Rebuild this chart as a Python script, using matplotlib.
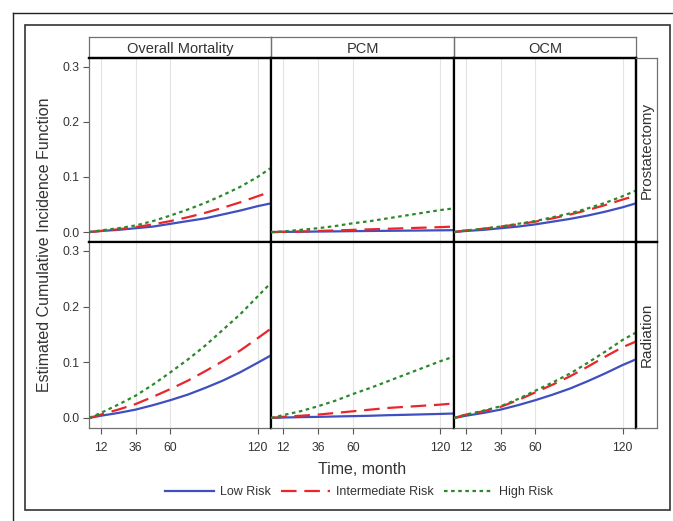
import matplotlib
matplotlib.use("Agg")
import matplotlib.pyplot as plt
from matplotlib.lines import Line2D
import numpy as np

plt.rcParams['font.family'] = ['Liberation Sans', 'DejaVu Sans']

# ---------------- data ----------------
months = [4, 12, 24, 36, 48, 60, 72, 84, 96, 108, 120, 129]
col_titles = ["Overall Mortality", "PCM", "OCM"]
row_titles = ["Prostatectomy", "Radiation"]
series_names = ["Low Risk", "Intermediate Risk", "High Risk"]
x_ticks = [12, 36, 60, 120]
y_ticks = [0.0, 0.1, 0.2, 0.3]
y_tick_labels = ["0.0", "0.1", "0.2", "0.3"]

# Prostatectomy row
prost_overall_low = [0, 0.002, 0.004, 0.007, 0.010, 0.015, 0.020, 0.025, 0.032, 0.039, 0.047, 0.052]
prost_overall_int = [0, 0.002, 0.005, 0.009, 0.014, 0.020, 0.027, 0.035, 0.044, 0.054, 0.065, 0.073]
prost_overall_high = [0, 0.003, 0.007, 0.012, 0.020, 0.030, 0.041, 0.053, 0.067, 0.082, 0.100, 0.116]

prost_pcm_low = [0, 0.0003, 0.0006, 0.001, 0.0013, 0.0017, 0.002, 0.0023, 0.0026, 0.0029, 0.0032, 0.0035]
prost_pcm_int = [0, 0.0005, 0.001, 0.002, 0.003, 0.004, 0.005, 0.006, 0.007, 0.008, 0.009, 0.010]
prost_pcm_high = [0, 0.001, 0.004, 0.007, 0.011, 0.016, 0.020, 0.025, 0.030, 0.035, 0.040, 0.043]

prost_ocm_low = [0, 0.002, 0.004, 0.007, 0.010, 0.014, 0.019, 0.024, 0.030, 0.037, 0.045, 0.052]
prost_ocm_int = [0, 0.003, 0.006, 0.010, 0.014, 0.019, 0.025, 0.032, 0.040, 0.049, 0.059, 0.066]
prost_ocm_high = [0, 0.003, 0.006, 0.010, 0.015, 0.020, 0.027, 0.034, 0.043, 0.053, 0.065, 0.075]

# Radiation row
rad_overall_low = [0, 0.004, 0.009, 0.015, 0.023, 0.032, 0.042, 0.054, 0.067, 0.082, 0.099, 0.112]
rad_overall_int = [0, 0.006, 0.015, 0.025, 0.038, 0.052, 0.067, 0.084, 0.102, 0.121, 0.143, 0.160]
rad_overall_high = [0, 0.009, 0.024, 0.040, 0.060, 0.082, 0.105, 0.130, 0.158, 0.186, 0.218, 0.242]

rad_pcm_low = [0, 0.0008, 0.0015, 0.002, 0.0027, 0.0033, 0.004, 0.005, 0.0057, 0.0065, 0.0073, 0.008]
rad_pcm_int = [0, 0.002, 0.004, 0.006, 0.009, 0.012, 0.015, 0.018, 0.020, 0.022, 0.024, 0.026]
rad_pcm_high = [0, 0.005, 0.012, 0.021, 0.031, 0.043, 0.054, 0.066, 0.078, 0.090, 0.102, 0.110]

rad_ocm_low = [0, 0.004, 0.009, 0.015, 0.023, 0.032, 0.042, 0.053, 0.066, 0.080, 0.095, 0.105]
rad_ocm_int = [0, 0.006, 0.012, 0.020, 0.032, 0.046, 0.060, 0.075, 0.092, 0.110, 0.127, 0.137]
rad_ocm_high = [0, 0.006, 0.013, 0.021, 0.034, 0.049, 0.064, 0.080, 0.099, 0.119, 0.140, 0.153]

panels = [
    [(prost_overall_low, prost_overall_int, prost_overall_high),
     (prost_pcm_low, prost_pcm_int, prost_pcm_high),
     (prost_ocm_low, prost_ocm_int, prost_ocm_high)],
    [(rad_overall_low, rad_overall_int, rad_overall_high),
     (rad_pcm_low, rad_pcm_int, rad_pcm_high),
     (rad_ocm_low, rad_ocm_int, rad_ocm_high)],
]

# ---------------- styling ----------------
W, H = 673, 521
colors = ["#3f4fbf", "#e8262b", "#2a8a2a"]
dashes = [None, (7, 3.5), (1.6, 1.6)]
TXT = "#333333"
THICK = "#000000"
THIN = "#707070"

fig = plt.figure(figsize=(W / 100, H / 100), dpi=100)


def frac(x0, y0, x1, y1):
    return [x0 / W, 1 - y1 / H, (x1 - x0) / W, (y1 - y0) / H]


col_x = [(89, 271), (271, 454), (454, 636)]
row_y = [(58, 242), (242, 428)]

# outer decorations
fig.add_artist(Line2D([12.7 / W, 1.0], [1 - 13.3 / H, 1 - 13.3 / H], color="#222222", lw=1.0))
fig.add_artist(Line2D([12.7 / W, 12.7 / W], [0, 1 - 13.3 / H], color="#222222", lw=1.0))
fig.add_artist(plt.Rectangle((25 / W, 1 - 510 / H), (670 - 25) / W, (510 - 25) / H,
                             fill=False, ec="#333333", lw=1.2, transform=fig.transFigure))

for r, (y0, y1) in enumerate(row_y):
    for c, (x0, x1) in enumerate(col_x):
        ax = fig.add_axes(frac(x0, y0, x1, y1))
        ax.set_xlim(3.9, 129.3)
        ax.set_ylim(-0.018, 0.316)
        for xv in x_ticks:
            ax.axvline(xv, color="#e4e4e4", lw=0.8, zorder=0)
        for k, vals in enumerate(panels[r][c]):
            ln, = ax.plot(months, vals, color=colors[k], lw=1.6, zorder=3 + k)
            if dashes[k] is not None:
                ln.set_dashes(dashes[k])
        for side in ["top", "bottom", "left", "right"]:
            ax.spines[side].set_color(THICK)
            ax.spines[side].set_linewidth(1.6)
        if c == 0:
            ax.spines["left"].set_color(THIN)
            ax.spines["left"].set_linewidth(0.9)
        if r == 1:
            ax.spines["bottom"].set_color(THIN)
            ax.spines["bottom"].set_linewidth(0.9)
        ax.set_xticks(x_ticks)
        ax.set_yticks(y_ticks)
        ax.tick_params(axis="both", direction="out", length=4, width=0.8,
                       color="#555555", labelsize=8.8, labelcolor=TXT, pad=3)
        if c == 0:
            ax.set_yticklabels(y_tick_labels)
        else:
            ax.tick_params(axis="y", left=False, labelleft=False)
        if r == 1:
            ax.set_xticklabels([str(v) for v in x_ticks])
            ax.tick_params(axis="x", pad=6)
        else:
            ax.tick_params(axis="x", bottom=False, labelbottom=False)

# column strips
for c, (x0, x1) in enumerate(col_x):
    sax = fig.add_axes(frac(x0, 37.3, x1, 58))
    sax.set_xticks([]); sax.set_yticks([])
    for side in ["top", "left", "right"]:
        sax.spines[side].set_color(THIN); sax.spines[side].set_linewidth(0.9)
    sax.spines["bottom"].set_color(THICK); sax.spines["bottom"].set_linewidth(1.6)
    sax.text(0.5, 0.45, col_titles[c], ha="center", va="center", fontsize=10.5,
             color=TXT, transform=sax.transAxes)
    sax.patch.set_alpha(0)

# row strips
for r, (y0, y1) in enumerate(row_y):
    sax = fig.add_axes(frac(636, y0, 657.3, y1))
    sax.set_xticks([]); sax.set_yticks([])
    for side in ["top", "right", "bottom"]:
        sax.spines[side].set_color(THIN); sax.spines[side].set_linewidth(0.9)
    sax.spines["left"].set_color(THICK); sax.spines["left"].set_linewidth(1.6)
    if r == 0:
        sax.spines["bottom"].set_color(THICK); sax.spines["bottom"].set_linewidth(1.6)
    else:
        sax.spines["top"].set_color(THICK); sax.spines["top"].set_linewidth(1.6)
    sax.text(0.5, 0.5, row_titles[r], ha="center", va="center", fontsize=11,
             color=TXT, rotation=90, transform=sax.transAxes)
    sax.patch.set_alpha(0)

# axis titles
fig.text(45 / W, 1 - 245 / H, "Estimated Cumulative Incidence Function", rotation=90,
         ha="center", va="center", fontsize=11.5, color=TXT)
fig.text(362 / W, 1 - 470 / H, "Time, month", ha="center", va="center",
         fontsize=11.5, color=TXT)

# legend
handles = []
for k in range(3):
    h = Line2D([], [], color=colors[k], lw=1.6)
    if dashes[k] is not None:
        h.set_dashes(dashes[k])
    handles.append(h)
fig.legend(handles, series_names, loc="center", bbox_to_anchor=(359 / W, 1 - 492 / H),
           ncol=3, frameon=False, handlelength=3.9, handletextpad=0.5,
           columnspacing=0.8, labelcolor=TXT, prop={"size": 9})

fig.savefig("out.png", dpi=100)
